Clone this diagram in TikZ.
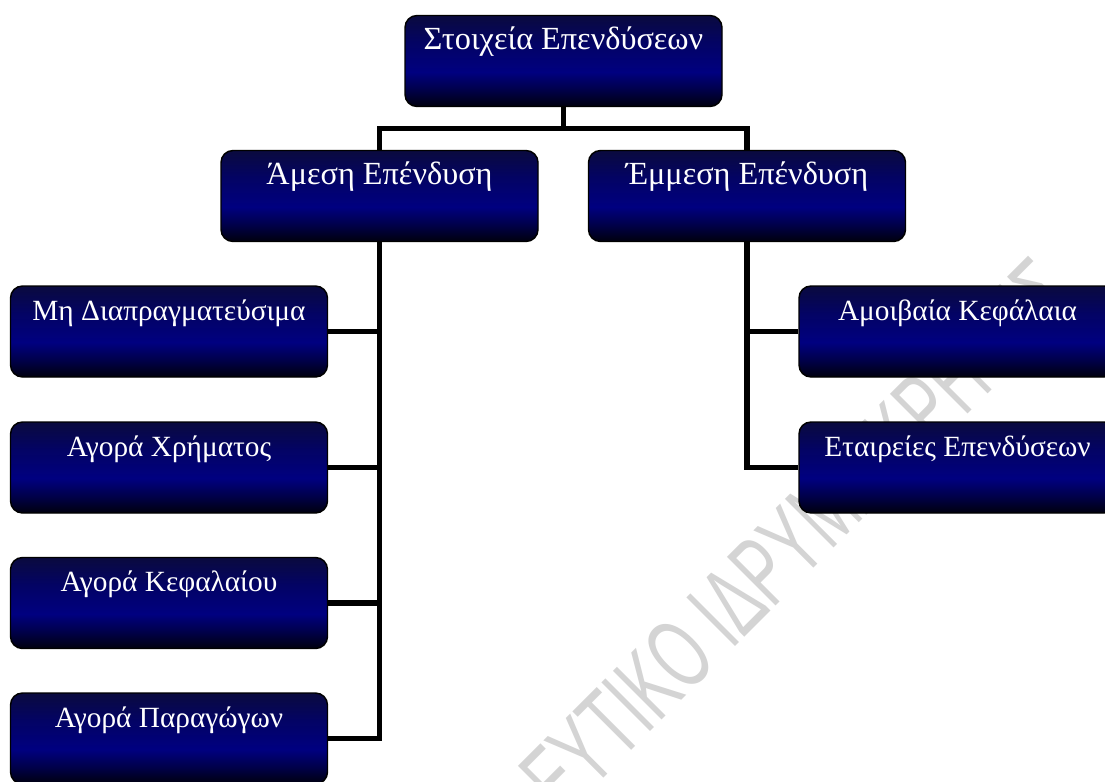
\documentclass[tikz,border=0pt]{standalone}
\usepackage{graphicx}
\usepackage{fontspec}
\setmainfont{Liberation Serif}
\newfontfamily\wmfont{Liberation Sans}
\definecolor{navyA}{RGB}{10,10,62}
\definecolor{navyB}{RGB}{3,3,100}
\definecolor{navyC}{RGB}{0,0,128}
\definecolor{navyD}{RGB}{0,0,72}
\definecolor{navyE}{RGB}{0,0,14}
\definecolor{wmgray}{RGB}{212,212,212}
\pgfdeclareverticalshading{navybox}{100bp}{color(0bp)=(navyE); color(25bp)=(navyE); color(34bp)=(navyD); color(44bp)=(navyC); color(60bp)=(navyB); color(75bp)=(navyA); color(100bp)=(navyA)}
\tikzset{
  box/.style={draw=black, line width=1.1pt, rounded corners=9pt, shading=navybox,
    minimum width=237.75pt, minimum height=68.25pt, text height=25.5pt, text depth=42.75pt,
    inner sep=0pt, text=white, font=\fontsize{22}{24}\selectfont},
  bigbox/.style={box, font=\fontsize{24.2}{26}\selectfont},
  conn/.style={line width=4.1pt, line join=miter, draw=black},
  wm/.style={text=wmgray, font=\wmfont\fontsize{75}{80}\selectfont, inner sep=0pt}
}
\begin{document}
\begin{tikzpicture}[x=0.75pt,y=-0.75pt]
\path[use as bounding box, clip] (0,0) rectangle (1105,781);
\fill[white] (0,0) rectangle (1105,781);
% watermark
\node[wm, rotate=45, anchor=base east] (wmtext) at (1080,302) {\scalebox{0.61}[1]{ΕΥΤΙΚΟ ΙΔΡΥΜΑ ΚΡΗΤΗΣ}};
% nodes
\node[bigbox] (root) at (563.5,61) {Στοιχεία Επενδύσεων};
\node[bigbox] (direct) at (379.5,196) {Άμεση Επένδυση};
\node[bigbox] (indirect) at (747,196) {Έμμεση Επένδυση};
\node[box] (mh) at (169,331.5) {Μη Διαπραγματεύσιμα};
\node[box] (xr) at (169,467.5) {Αγορά Χρήματος};
\node[box] (kf) at (169,603) {Αγορά Κεφαλαίου};
\node[box] (pr) at (169,738.5) {Αγορά Παραγώγων};
\node[box] (am) at (957.5,331.5) {Αμοιβαία Κεφάλαια};
\node[box] (et) at (957.5,467.5) {Εταιρείες Επενδύσεων};
% connectors
\coordinate (hub) at (563.5,128.5);
\draw[conn] (root.south) -- (hub);
\draw[conn] (direct.north) |- (hub) -| (indirect.north);
\draw[conn] (direct.south) |- (mh.east);
\draw[conn] (direct.south) |- (xr.east);
\draw[conn] (direct.south) |- (kf.east);
\draw[conn] (direct.south) |- (pr.east);
\draw[conn] (indirect.south) |- (am.west);
\draw[conn] (indirect.south) |- (et.west);
\end{tikzpicture}
\end{document}
